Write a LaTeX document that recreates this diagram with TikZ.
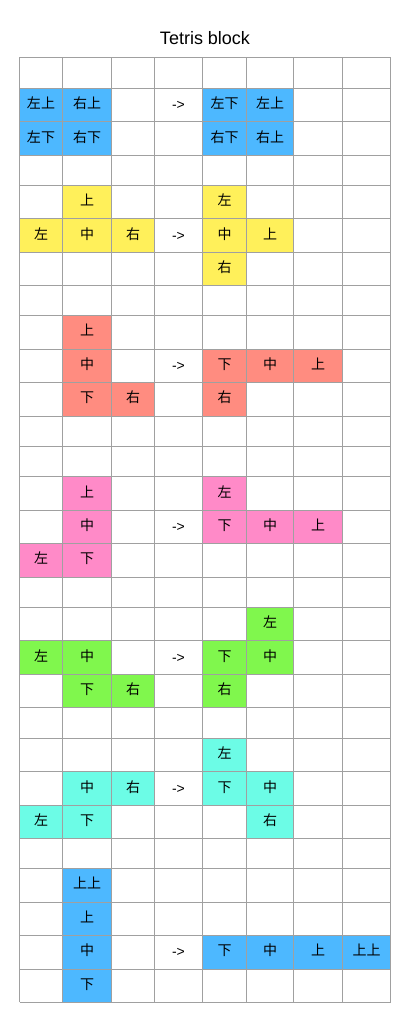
\documentclass[tikz,border=0pt]{standalone}
\usepackage{fontspec}
\setmainfont{Liberation Sans}
\newfontfamily\cjk{Noto Sans CJK SC}
\usetikzlibrary{calc}
\definecolor{tblue}{HTML}{4DB8FF}
\definecolor{tyellow}{HTML}{FFF05A}
\definecolor{tred}{HTML}{FF8C80}
\definecolor{tpink}{HTML}{FF8AC8}
\definecolor{tgreen}{HTML}{80F74D}
\definecolor{tcyan}{HTML}{6CFCE6}
\definecolor{tgrid}{HTML}{A0A0A0}
\tikzset{
  celltext/.style={inner sep=0pt, text height=0.86em, text depth=0.14em, font=\cjk\fontsize{14}{16}\selectfont},
  arrowtext/.style={inner sep=0pt, text height=0.86em, text depth=0.14em, yshift=-1pt, font=\fontsize{14}{16}\selectfont},
  gridline/.style={draw=tgrid, line width=1pt},
  titletext/.style={inner sep=0pt, anchor=base, font=\fontsize{18}{22}\selectfont}
}
\newcommand\tcell[4]{%
  \pgfmathtruncatemacro\ca{#1-1}\pgfmathtruncatemacro\ra{#2-1}%
  \path (X\ca |- Y\ra) coordinate (tl) (X#1 |- Y#2) coordinate (br);
  \fill[#3] (tl) rectangle (br);
  \node[celltext] (n-#2-#1) at ($(tl)!0.5!(br)$) {#4};
}
\newcommand\tarrow[2]{%
  \pgfmathtruncatemacro\ca{#1-1}\pgfmathtruncatemacro\ra{#2-1}%
  \path (X\ca |- Y\ra) coordinate (tl) (X#1 |- Y#2) coordinate (br);
  \node[arrowtext] (a-#2-#1) at ($(tl)!0.5!(br)$) {->};
}
\begin{document}
\begin{tikzpicture}[x=1pt,y=-1pt]
\useasboundingbox (0,0) rectangle (402,1032);
\fill[white] (0,0) rectangle (402,1032);
\foreach \v [count=\i from 0] in {19.5,62.5,111.5,154.5,202.5,246.5,293.5,342.5,390.5}
  \coordinate (X\i) at (\v,0);
\foreach \v [count=\i from 0] in {57.3,88.3,121.7,155.3,185.3,218.7,252.3,285.3,315.3,349.3,382.3,416.3,446.3,476.7,510.3,543.3,577.2,607.3,640.7,674.3,707,738.3,771.7,805.3,838.3,868.3,902.3,935.3,969.3,1002.3}
  \coordinate (Y\i) at (0,\v);
\node[titletext] (title) at (205,44.3) {Tetris block};
% O block
\tcell{1}{2}{tblue}{左上}\tcell{2}{2}{tblue}{右上}\tarrow{4}{2}\tcell{5}{2}{tblue}{左下}\tcell{6}{2}{tblue}{左上}
\tcell{1}{3}{tblue}{左下}\tcell{2}{3}{tblue}{右下}\tcell{5}{3}{tblue}{右下}\tcell{6}{3}{tblue}{右上}
% T block
\tcell{2}{5}{tyellow}{上}\tcell{5}{5}{tyellow}{左}
\tcell{1}{6}{tyellow}{左}\tcell{2}{6}{tyellow}{中}\tcell{3}{6}{tyellow}{右}\tarrow{4}{6}\tcell{5}{6}{tyellow}{中}\tcell{6}{6}{tyellow}{上}
\tcell{5}{7}{tyellow}{右}
% L block
\tcell{2}{9}{tred}{上}
\tcell{2}{10}{tred}{中}\tarrow{4}{10}\tcell{5}{10}{tred}{下}\tcell{6}{10}{tred}{中}\tcell{7}{10}{tred}{上}
\tcell{2}{11}{tred}{下}\tcell{3}{11}{tred}{右}\tcell{5}{11}{tred}{右}
% J block
\tcell{2}{14}{tpink}{上}\tcell{5}{14}{tpink}{左}
\tcell{2}{15}{tpink}{中}\tarrow{4}{15}\tcell{5}{15}{tpink}{下}\tcell{6}{15}{tpink}{中}\tcell{7}{15}{tpink}{上}
\tcell{1}{16}{tpink}{左}\tcell{2}{16}{tpink}{下}
% Z block
\tcell{6}{18}{tgreen}{左}
\tcell{1}{19}{tgreen}{左}\tcell{2}{19}{tgreen}{中}\tarrow{4}{19}\tcell{5}{19}{tgreen}{下}\tcell{6}{19}{tgreen}{中}
\tcell{2}{20}{tgreen}{下}\tcell{3}{20}{tgreen}{右}\tcell{5}{20}{tgreen}{右}
% S block
\tcell{5}{22}{tcyan}{左}
\tcell{2}{23}{tcyan}{中}\tcell{3}{23}{tcyan}{右}\tarrow{4}{23}\tcell{5}{23}{tcyan}{下}\tcell{6}{23}{tcyan}{中}
\tcell{1}{24}{tcyan}{左}\tcell{2}{24}{tcyan}{下}\tcell{6}{24}{tcyan}{右}
% I block
\tcell{2}{26}{tblue}{上上}
\tcell{2}{27}{tblue}{上}
\tcell{2}{28}{tblue}{中}\tarrow{4}{28}\tcell{5}{28}{tblue}{下}\tcell{6}{28}{tblue}{中}\tcell{7}{28}{tblue}{上}\tcell{8}{28}{tblue}{上上}
\tcell{2}{29}{tblue}{下}
% grid
\foreach \i in {0,...,8} \draw[gridline] (X\i |- Y0) -- (X\i |- Y29);
\foreach \j in {0,...,29} \draw[gridline] (X0 |- Y\j) -- (X8 |- Y\j);
\end{tikzpicture}
\end{document}
